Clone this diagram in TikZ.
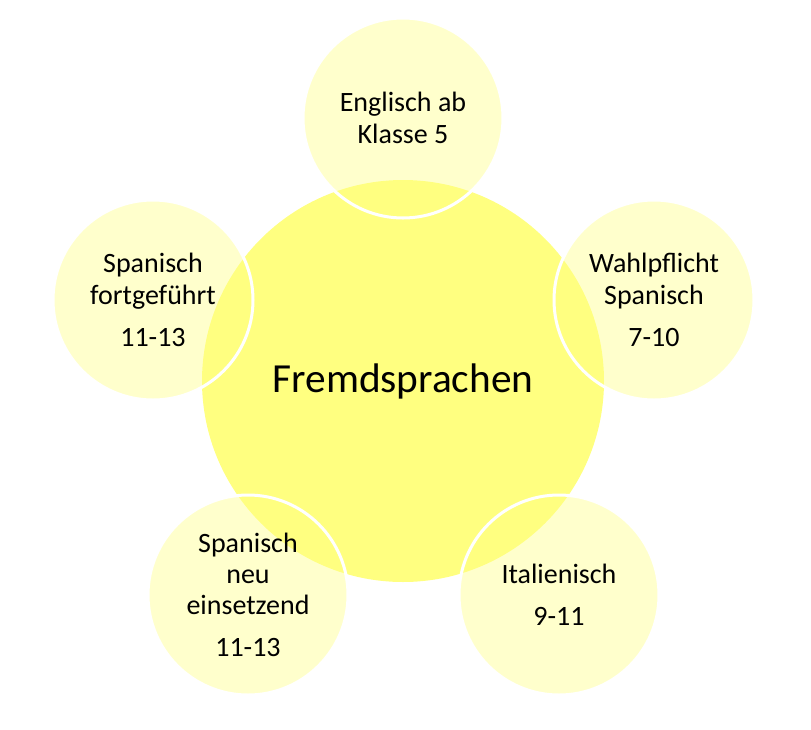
\documentclass[tikz,border=0pt]{standalone}
\usepackage{fontspec}
\setmainfont{Carlito}
\usetikzlibrary{positioning}

\definecolor{sunyellow}{HTML}{FFFF80}

\begin{document}
\begin{tikzpicture}[x=0.75pt,y=-0.75pt,
				hub/.style={circle,fill=sunyellow,minimum size=301.5pt,inner sep=0pt,
					font=\fontsize{31}{36}\selectfont},
				leaf/.style={circle,draw=white,line width=2.25pt,fill=sunyellow,fill opacity=0.4,
					text opacity=1,minimum size=150pt,inner sep=0pt,align=center,
					font=\fontsize{21}{23.5}\selectfont}]
			\useasboundingbox (0,0) rectangle (811,729);
			\node [hub] (fs) at (403,381) {Fremdsprachen};
			\node [leaf] (en) at (403,118) {Englisch ab\\Klasse 5};
			\node [leaf] (wp) at (654,300) {Wahlpflicht\\Spanisch\\[8pt]7-10};
			\node [leaf] (it) at (559,595) {Italienisch\\[8pt]9-11};
			\node [leaf] (sn) at (248,595) {Spanisch\\neu\\einsetzend\\[8pt]11-13};
			\node [leaf] (sf) at (153,300) {Spanisch\\fortgeführt\\[8pt]11-13};
		\end{tikzpicture}
\end{document}
